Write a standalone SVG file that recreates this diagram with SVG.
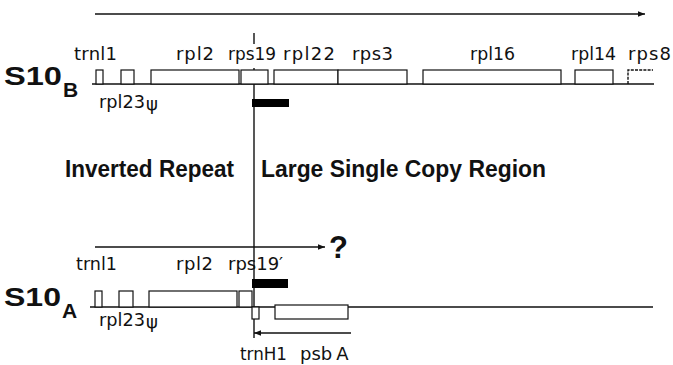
<svg xmlns="http://www.w3.org/2000/svg" width="673" height="365" viewBox="0 0 673 365">
<style>
.g{font-family:"DejaVu Sans","Liberation Sans",sans-serif;font-size:18px;fill:#111}
.b{font-family:"Liberation Sans",Arial,sans-serif;font-weight:bold;fill:#111}
.box{fill:#fff;stroke:#111;stroke-width:1.2}
.ln{fill:none;stroke:#111;stroke-width:1.4}
.bar{fill:#000}
</style>
<defs>
<marker id="ah" viewBox="0 0 10 10" refX="10" refY="5" markerWidth="10" markerHeight="7" markerUnits="userSpaceOnUse" orient="auto">
<path d="M0,1 L10,5 L0,9 Z" fill="#111"/>
</marker>
</defs>
<rect width="673" height="365" fill="#fff"/>

<g id="connectors">
<line class="ln" x1="95" y1="14" x2="645" y2="14" marker-end="url(#ah)"/>
<line class="ln" x1="95" y1="247" x2="325" y2="247" marker-end="url(#ah)"/>
<line class="ln" x1="351" y1="333" x2="254" y2="333" marker-end="url(#ah)"/>
<line class="ln" x1="254" y1="33" x2="254" y2="44"/>
<line class="ln" x1="254" y1="68" x2="254" y2="338"/>
</g>

<g id="strand-B">
<text class="b" x="4" y="85" font-size="26" textLength="58" lengthAdjust="spacingAndGlyphs">S10</text>
<text class="b" x="63" y="97" font-size="21">B</text>
<line class="ln" x1="92" y1="84" x2="654" y2="84"/>
<g id="B-trnl1"><rect class="box" x="96" y="70" width="7" height="14"/><text class="g" x="74" y="60" textLength="43" lengthAdjust="spacing">trnl1</text></g>
<g id="B-rpl23"><rect class="box" x="121" y="70" width="13" height="14"/><text class="g" x="99" y="108" textLength="46" lengthAdjust="spacingAndGlyphs">rpl23</text><text class="g" x="146" y="110" font-size="13">ψ</text></g>
<g id="B-rpl2"><rect class="box" x="151" y="70" width="88" height="14"/><text class="g" x="176" y="60" textLength="38" lengthAdjust="spacing">rpl2</text></g>
<g id="B-rps19"><rect class="box" x="241" y="70" width="27" height="14"/><text class="g" x="228" y="60" textLength="48" lengthAdjust="spacingAndGlyphs">rps19</text></g>
<g id="B-rpl22"><rect class="box" x="274" y="70" width="64" height="14"/><text class="g" x="283" y="60" textLength="52" lengthAdjust="spacing">rpl22</text></g>
<g id="B-rps3"><rect class="box" x="338" y="70" width="69" height="14"/><text class="g" x="352" y="60" textLength="41" lengthAdjust="spacing">rps3</text></g>
<g id="B-rpl16"><rect class="box" x="423" y="70" width="138" height="14"/><text class="g" x="470" y="60" textLength="45" lengthAdjust="spacingAndGlyphs">rpl16</text></g>
<g id="B-rpl14"><rect class="box" x="575" y="70" width="38" height="14"/><text class="g" x="571" y="60" textLength="45" lengthAdjust="spacingAndGlyphs">rpl14</text></g>
<g id="B-rps8"><path class="ln" d="M628,84 V70 H653" stroke-dasharray="3,1.2" stroke-width="1.1"/><text class="g" x="628" y="60" textLength="43" lengthAdjust="spacing">rps8</text></g>
<rect id="B-bar" class="bar" x="252" y="99" width="37" height="8"/>
</g>

<g id="labels">
<text class="b" x="65" y="177" font-size="23" textLength="169" lengthAdjust="spacingAndGlyphs">Inverted Repeat</text>
<text class="b" x="261" y="177" font-size="23" textLength="285" lengthAdjust="spacingAndGlyphs">Large Single Copy Region</text>
<text class="b" x="329" y="258" font-size="31">?</text>
</g>

<g id="strand-A">
<text class="b" x="4" y="306" font-size="26" textLength="57" lengthAdjust="spacingAndGlyphs">S10</text>
<text class="b" x="62" y="318" font-size="21">A</text>
<path class="ln" d="M90,307 H275 M348,307 H653"/>
<g id="A-trnl1"><rect class="box" x="95" y="291" width="7" height="16"/><text class="g" x="76" y="270" textLength="41" lengthAdjust="spacingAndGlyphs">trnl1</text></g>
<g id="A-rpl23"><rect class="box" x="119" y="291" width="14" height="16"/><text class="g" x="99" y="326" textLength="46" lengthAdjust="spacingAndGlyphs">rpl23</text><text class="g" x="146" y="328" font-size="13">ψ</text></g>
<g id="A-rpl2"><rect class="box" x="149" y="291" width="88" height="16"/><text class="g" x="176" y="270" textLength="37" lengthAdjust="spacing">rpl2</text></g>
<g id="A-rps19p"><rect class="box" x="239" y="291" width="13" height="16"/><text class="g" x="228" y="270" font-size="16.5">rps19′</text></g>
<rect id="A-bar" class="bar" x="252" y="279" width="36" height="9"/>
<g id="A-trnH1"><rect class="box" x="252" y="307" width="7" height="12"/><text class="g" x="240" y="360" textLength="47" lengthAdjust="spacingAndGlyphs">trnH1</text></g>
<g id="A-psbA"><rect class="box" x="275" y="305" width="73" height="14"/><text class="g" x="300" y="360">psb<tspan dx="4">A</tspan></text></g>
</g>
</svg>
